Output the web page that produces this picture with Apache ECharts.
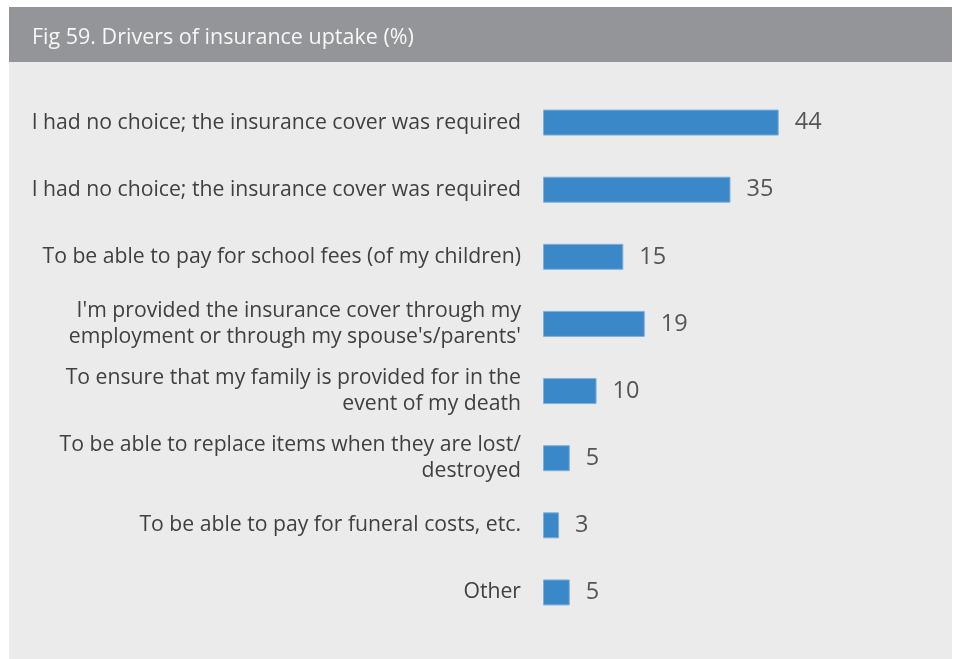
<!DOCTYPE html>
<html>
<head>
<meta charset="utf-8">
<script src="https://cdn.jsdelivr.net/npm/echarts@6/dist/echarts.min.js"></script>
<style>
html,body{margin:0;padding:0;background:#fff;}
#c{width:960px;height:659px;}
</style>
</head>
<body>
<div id="c"></div>
<script>
const titleText = 'Fig 59. Drivers of insurance uptake (%)';
const categories = [
  'I had no choice; the insurance cover was required',
  'I had no choice; the insurance cover was required',
  'To be able to pay for school fees (of my children)',
  "I'm provided the insurance cover through my\nemployment or through my spouse's/parents'",
  'To ensure that my family is provided for in the\nevent of my death',
  'To be able to replace items when they are lost/\ndestroyed',
  'To be able to pay for funeral costs, etc.',
  'Other'
];
const values = [44, 35, 15, 19, 10, 5, 3, 5];

const chart = echarts.init(document.getElementById('c'), null, {renderer: 'canvas'});
const FONT = '"Open Sans", "Noto Sans", sans-serif';
chart.setOption({
  animation: false,
  backgroundColor: '#ffffff',
  graphic: [
    {type: 'rect', z: -10, shape: {x: 9, y: 62, width: 943, height: 597}, style: {fill: '#ebebeb'}},
    {type: 'rect', z: -10, shape: {x: 9, y: 7, width: 943, height: 55}, style: {fill: '#939598'}}
  ],
  title: {
    text: titleText,
    left: 32, top: 27,
    padding: 0,
    textStyle: {color: '#f7f7f7', fontSize: 21.5, fontWeight: 'normal', fontFamily: FONT}
  },
  grid: {left: 543, right: 42, top: 89, bottom: 33, containLabel: false},
  xAxis: {
    type: 'value', min: 0, max: 70, show: false
  },
  yAxis: {
    type: 'category', data: categories, inverse: true,
    axisLine: {show: false}, axisTick: {show: false}, splitLine: {show: false},
    axisLabel: {
      margin: 22, fontSize: 21.2, lineHeight: 26, color: '#404040', fontFamily: FONT, align: 'right'
    }
  },
  series: [{
    type: 'bar', data: values, barWidth: 26,
    itemStyle: {color: '#3a88c8', borderColor: '#7fb0dc', borderWidth: 1},
    label: {
      show: true, position: 'right', distance: 16,
      fontSize: 23.5, color: '#555555', fontFamily: FONT
    }
  }]
});
</script>
</body>
</html>
